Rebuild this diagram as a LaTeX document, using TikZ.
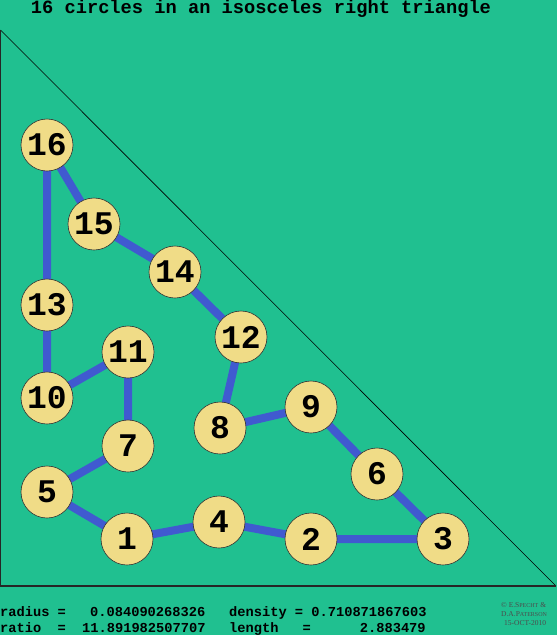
\documentclass[tikz,border=0pt]{standalone}
\usepackage{fontspec}
\setmainfont{Liberation Serif}
\setmonofont{Liberation Mono}
\definecolor{bg}{RGB}{32,192,144}
\definecolor{edgeblue}{RGB}{64,90,208}
\definecolor{disc}{RGB}{240,220,135}
\pgfdeclarelayer{back}
\pgfdeclarelayer{links}
\pgfsetlayers{back,links,main}
\tikzset{
  ball/.style={circle, draw=black!80, line width=0.6pt, fill=disc, minimum size=52pt, inner sep=0pt,
    font=\ttfamily\bfseries\fontsize{33}{33}\selectfont},
  link/.style={draw=edgeblue, line width=8pt},
  info/.style={anchor=base west, inner sep=0pt, font=\ttfamily\bfseries\fontsize{13.7}{13.7}\selectfont},
  credit/.style={anchor=base west, inner sep=0pt, font=\fontsize{7.5}{7.5}\selectfont, text=black!70}
}
\begin{document}
\begin{tikzpicture}[x=1pt,y=-1pt]
\begin{pgfonlayer}{back}
\fill[bg] (0,0) rectangle (557,635);
\end{pgfonlayer}
\useasboundingbox (0,0) rectangle (557,635);
% triangle
\coordinate (tA) at (0.5,30);
\coordinate (tB) at (0.5,586);
\coordinate (tC) at (556,586);
\draw[black, line width=0.6pt] (tA) -- (tC);
\draw[black!85, line width=1.3pt] (tA) -- (tB) -- (tC);
% circles
\node[ball] (c16) at (47,145) {16};
\node[ball] (c15) at (94,224) {15};
\node[ball] (c14) at (175,272) {14};
\node[ball] (c13) at (47,305) {13};
\node[ball] (c12) at (241,337) {12};
\node[ball] (c11) at (128,352) {11};
\node[ball] (c10) at (47,398) {10};
\node[ball] (c7) at (128,446) {7};
\node[ball] (c8) at (220,428) {8};
\node[ball] (c9) at (311,407) {9};
\node[ball] (c6) at (377,474) {6};
\node[ball] (c5) at (47,492) {5};
\node[ball] (c1) at (127,539) {1};
\node[ball] (c4) at (219,522) {4};
\node[ball] (c2) at (311,539) {2};
\node[ball] (c3) at (443,539) {3};
\begin{pgfonlayer}{links}
\draw[link] (c16.center) -- (c15.center) -- (c14.center) -- (c12.center) -- (c8.center) -- (c9.center) -- (c6.center) -- (c3.center) -- (c2.center) -- (c4.center) -- (c1.center) -- (c5.center) -- (c7.center) -- (c11.center) -- (c10.center) -- (c13.center) -- (c16.center);
\end{pgfonlayer}
% title
\node[anchor=base, inner sep=0pt, font=\ttfamily\bfseries\fontsize{18.7}{18.7}\selectfont] (title) at (261,13.5) {16 circles in an isosceles right triangle};
% info text
\node[info] (r1a) at (0,616) {radius =};
\node[info] (r1b) at (90,616) {0.084090268326};
\node[info] (r1c) at (229,616) {density = 0.710871867603};
\node[info] (r2a) at (0,632) {ratio \ =};
\node[info] (r2b) at (82,632) {11.891982507707};
\node[info] (r2c) at (229,632) {length};
\node[info] (r2d) at (302.5,632) {=};
\node[info] (r2e) at (359.7,632) {2.883479};
\node[credit] (k1) at (501,607) {\textcopyright\ E.S{\fontsize{6}{6}\selectfont PECHT} \&};
\node[credit] (k2) at (501,616) {D.A.P{\fontsize{6}{6}\selectfont ATERSON}};
\node[credit] (k3) at (504,625) {15-OCT-2010};
\end{tikzpicture}
\end{document}
